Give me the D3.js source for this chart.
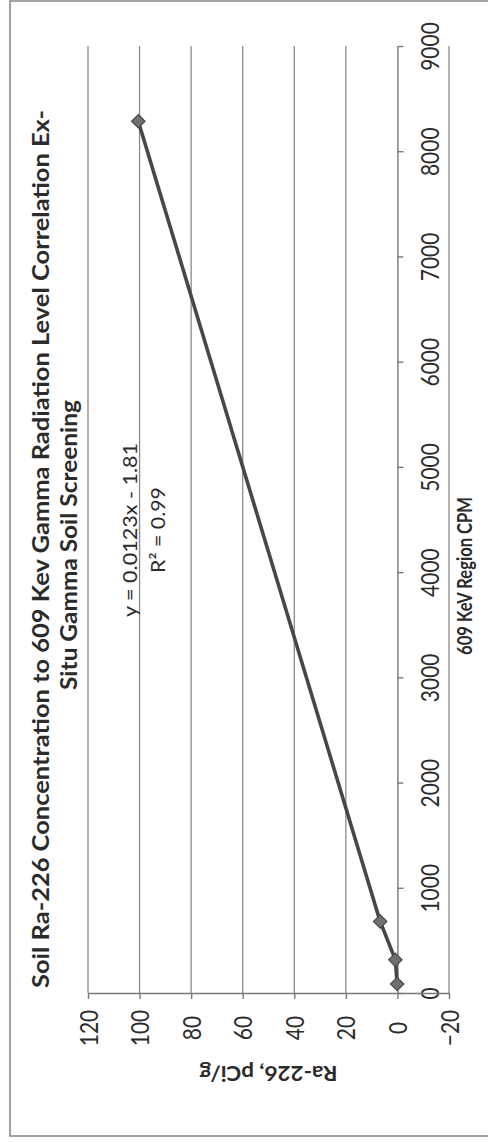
<!DOCTYPE html>
<html>
<head>
<meta charset="utf-8">
<script src="https://cdn.jsdelivr.net/npm/d3@7"></script>
<style>
  html, body { margin: 0; padding: 0; background: #fff; }
  svg { display: block; }
  text { font-family: Lato, "Open Sans", "Liberation Sans", sans-serif; fill: #2b2b2b; }
</style>
</head>
<body>
<svg id="chart" width="488" height="1142"></svg>
<script>
// Counts per minute in the 609 keV region vs. measured Ra-226 activity
const cpm = [85, 315, 680, 8285];
const ra226 = [0.1, 0.8, 6.7, 100.5];

const cpmTicks = [0, 1000, 2000, 3000, 4000, 5000, 6000, 7000, 8000, 9000];
const raTicks = [-20, 0, 20, 40, 60, 80, 100, 120];

const titleLines = [
  "Soil Ra-226 Concentration to 609 Kev Gamma Radiation Level Correlation  Ex-",
  "Situ Gamma Soil Screening"
];
const trendLines = ["y = 0.0123x - 1.81", "R\u00b2 = 0.99"];
const xTitle = "609 KeV  Region CPM";
const yTitle = "Ra-226, pCi/g";

const svg = d3.select("#chart");

// The chart is laid out turned a quarter turn: CPM runs up the page,
// Ra-226 runs right-to-left across it.
const plotTop = 46, plotBottom = 993, plotLeft = 88, plotRight = 449;
const x = d3.scaleLinear().domain([0, 9000]).range([plotBottom, plotTop]);
const y = d3.scaleLinear().domain([-20, 120]).range([plotRight, plotLeft]);

const stretch = 1.15; // tall, narrow lettering

// Outer frame
svg.append("rect")
  .attr("x", 10).attr("y", 1).attr("width", 500).attr("height", 1135)
  .attr("fill", "none").attr("stroke", "#8c8c8c").attr("stroke-width", 1.6);

// Gridlines at each Ra-226 tick
svg.append("g").selectAll("line")
  .data(raTicks.filter(d => d !== 0))
  .join("line")
  .attr("x1", d => y(d)).attr("x2", d => y(d))
  .attr("y1", plotTop).attr("y2", plotBottom)
  .attr("stroke", "#8a8a8a").attr("stroke-width", 1.3);

// CPM axis, crossing at Ra-226 = 0
const cpmAxis = svg.append("g")
  .attr("transform", `translate(${y(0)},0)`)
  .call(d3.axisRight(x).tickValues(cpmTicks).tickSize(6).tickSizeOuter(0).tickFormat(d3.format("d")));
cpmAxis.selectAll("path, line").attr("stroke", "#7a7a7a").attr("stroke-width", 1.4);
cpmAxis.selectAll("text")
  .attr("x", null).attr("dy", null)
  .attr("text-anchor", "middle")
  .attr("dominant-baseline", "central")
  .attr("transform", `translate(33,0) rotate(-90) scale(1,${stretch})`)
  .style("font-size", "21px").style("font-family", "Lato, sans-serif").attr("fill", "#3a3a3a");

// Ra-226 axis along CPM = 0
const raAxis = svg.append("g")
  .attr("transform", `translate(0,${plotBottom})`)
  .call(d3.axisBottom(y).tickValues(raTicks).tickSize(6).tickSizeOuter(0));
raAxis.selectAll("path, line").attr("stroke", "#7a7a7a").attr("stroke-width", 1.4);
raAxis.selectAll("text")
  .attr("y", null).attr("dy", null)
  .attr("text-anchor", "middle")
  .attr("dominant-baseline", "central")
  .attr("transform", `translate(0,35) rotate(-90) scale(1,${stretch})`)
  .style("font-size", "21px").style("font-family", "Lato, sans-serif").attr("fill", "#3a3a3a");

// Data series
const pts = cpm.map((c, i) => ({c, r: ra226[i]}));
svg.append("path")
  .datum(pts)
  .attr("fill", "none")
  .attr("stroke", "#474747")
  .attr("stroke-width", 3.6)
  .attr("stroke-linejoin", "round")
  .attr("d", d3.line().x(d => y(d.r)).y(d => x(d.c)));

svg.append("g").selectAll("path")
  .data(pts)
  .join("path")
  .attr("transform", d => `translate(${y(d.r)},${x(d.c)})`)
  .attr("d", d3.symbol(d3.symbolDiamond2, 115))
  .attr("fill", "#707070")
  .attr("stroke", "#4a4a4a")
  .attr("stroke-width", 1.2);

// Vertical-text helper
function vtext(str, cx, cy, size, weight, len, rot) {
  const t = svg.append("text")
    .attr("text-anchor", "middle")
    .attr("dominant-baseline", "central")
    .attr("transform", `translate(${cx},${cy}) rotate(${rot}) scale(1,${stretch})`)
    .style("font-size", size + "px")
    .style("font-weight", weight)
    .text(str);
  if (len) t.attr("textLength", len).attr("lengthAdjust", "spacingAndGlyphs");
  return t;
}

// Chart title
vtext(titleLines[0], 40, 549, 20, 700, 878, -90).attr("fill", "#1e1e1e");
vtext(titleLines[1], 68, 545, 20, 700, 290, -90).attr("fill", "#1e1e1e");

// Trendline equation
vtext(trendLines[0], 130, 530, 17, 400, 174, -90).attr("fill", "#333");
vtext(trendLines[1], 158, 530, 17, 400, 86, -90).attr("fill", "#333");

// Axis titles
vtext(xTitle, 464, 576, 18, 700, 158, -90).attr("fill", "#2a2a2a");
vtext(yTitle, y(50), 1074, 18, 700, 138, 180).attr("fill", "#2a2a2a");
</script>
</body>
</html>
